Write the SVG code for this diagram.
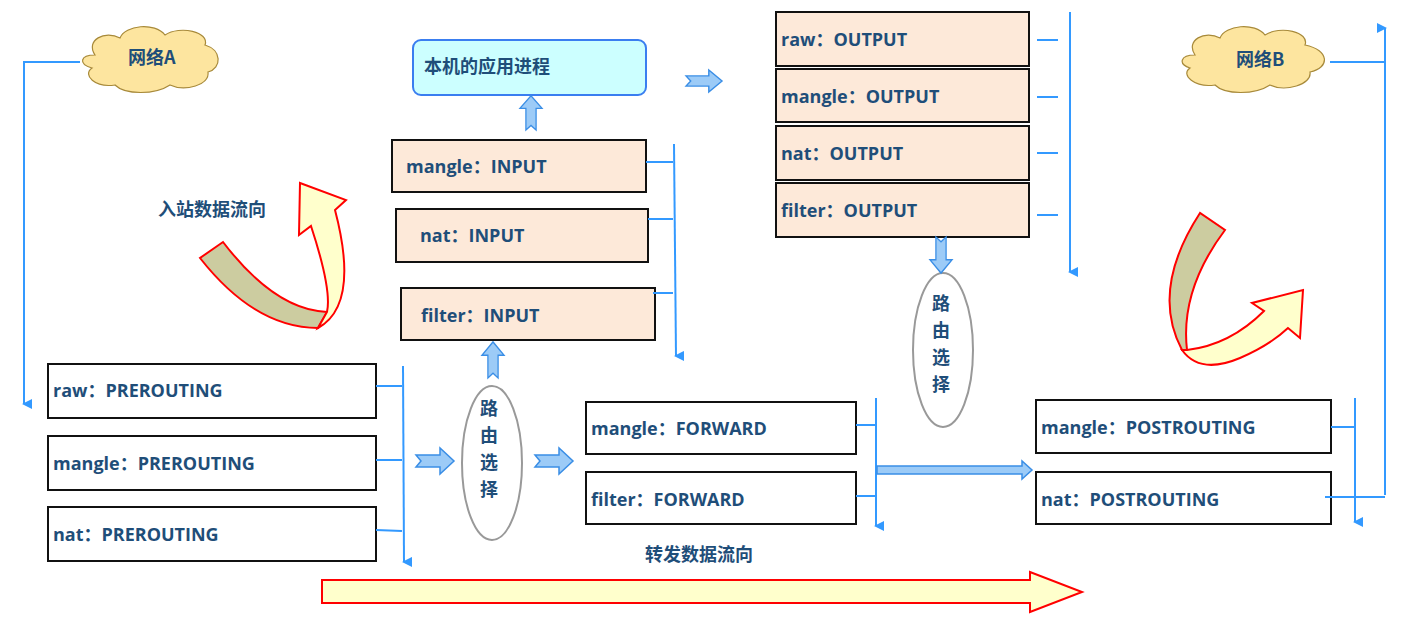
<svg xmlns="http://www.w3.org/2000/svg" width="1410" height="628" viewBox="0 0 1410 628">
<style>
text{font-family:"Open Sans","Noto Sans CJK SC",sans-serif;font-weight:bold;font-size:18px;fill:#1f4e79}
.cj{font-family:"Noto Sans CJK SC",sans-serif}
.b{fill:#fde9d9;stroke:#111;stroke-width:2}
.w{fill:#fff;stroke:#111;stroke-width:2}
.l{stroke:#3399ff;stroke-width:2;fill:none}
.ba{fill:#9ccbf7;stroke:#3a8ee6;stroke-width:1.5}
.cl{fill:#fde59f;stroke:#a88a3a;stroke-width:1.2}
.el{fill:#fff;stroke:#999;stroke-width:2}
.ol{fill:#cccca0;stroke:#ff0000;stroke-width:2}
.ye{fill:#ffffcc;stroke:#ff0000;stroke-width:2}
</style>
<defs>
<marker id="ah" markerWidth="10" markerHeight="10" refX="5" refY="8" orient="auto-start-reverse" markerUnits="userSpaceOnUse" viewBox="0 0 10 10"><path d="M0,0 L10,0 L5,10 Z" transform="rotate(0)" fill="#3399ff"/></marker>
<marker id="ad" markerWidth="10" markerHeight="10" refX="5" refY="8" orient="auto" markerUnits="userSpaceOnUse" viewBox="0 0 10 10"><path d="M0,0 L5,10 L10,0 Z" fill="#3399ff" transform="rotate(-90 5 5)"/></marker>
<path id="rarr" d="M0,-6 L24,-6 L24,-13 L38,0 L24,13 L24,6 L0,6 L5,0 Z"/>
</defs>
<g id="cloudA"><path class="cl" d="M95,55 C85,40 105,30 120,38 C125,25 155,22 165,35 C180,25 210,32 205,45 C222,50 222,68 208,72 C210,85 185,92 170,85 C155,95 125,95 115,85 C95,88 82,75 92,68 C78,64 80,55 95,55 Z"/><text x="128" y="64" class="cj">网络A</text></g>
<g id="cloudB"><path class="cl" d="M1195,55 C1185,40 1205,30 1220,38 C1225,25 1255,22 1265,35 C1280,25 1310,32 1305,45 C1330,50 1330,68 1310,72 C1312,85 1285,92 1270,85 C1255,95 1225,95 1215,85 C1195,88 1180,75 1190,68 C1178,64 1180,55 1195,55 Z"/><text x="1236" y="66" class="cj">网络B</text></g>
<g id="app"><rect x="413" y="40" width="233" height="55" rx="8" fill="#ccffff" stroke="#3a7ef0" stroke-width="2"/><text x="424" y="73" class="cj">本机的应用进程</text></g>
<g id="raw-output"><rect class="b" x="776" y="12" width="253" height="54"/><text x="781" y="46">raw：OUTPUT</text></g>
<g id="mangle-output"><rect class="b" x="776" y="69" width="253" height="53"/><text x="781" y="103">mangle：OUTPUT</text></g>
<g id="nat-output"><rect class="b" x="776" y="126" width="253" height="54"/><text x="781" y="160">nat：OUTPUT</text></g>
<g id="filter-output"><rect class="b" x="776" y="183" width="253" height="54"/><text x="781" y="217">filter：OUTPUT</text></g>
<g id="mangle-input"><rect class="b" x="392" y="140" width="254" height="52"/><text x="406" y="173">mangle：INPUT</text></g>
<g id="nat-input"><rect class="b" x="396" y="209" width="252" height="53"/><text x="420" y="242">nat：INPUT</text></g>
<g id="filter-input"><rect class="b" x="401" y="288" width="254" height="52"/><text x="421" y="322">filter：INPUT</text></g>
<g id="raw-pre"><rect class="w" x="48" y="364" width="328" height="54"/><text x="53" y="397">raw：PREROUTING</text></g>
<g id="mangle-pre"><rect class="w" x="48" y="436" width="328" height="54"/><text x="53" y="470">mangle：PREROUTING</text></g>
<g id="nat-pre"><rect class="w" x="48" y="507" width="328" height="54"/><text x="53" y="541">nat：PREROUTING</text></g>
<g id="mangle-fwd"><rect class="w" x="586" y="402" width="270" height="52"/><text x="591" y="435">mangle：FORWARD</text></g>
<g id="filter-fwd"><rect class="w" x="586" y="472" width="270" height="52"/><text x="591" y="506">filter：FORWARD</text></g>
<g id="mangle-post"><rect class="w" x="1036" y="400" width="295" height="53"/><text x="1041" y="434">mangle：POSTROUTING</text></g>
<g id="nat-post"><rect class="w" x="1036" y="472" width="295" height="52"/><text x="1041" y="506">nat：POSTROUTING</text></g>
<g id="route1"><ellipse class="el" cx="492" cy="463" rx="30" ry="77"/><text class="cj" font-size="20" x="480" y="415">路</text><text class="cj" font-size="20" x="480" y="442">由</text><text class="cj" font-size="20" x="480" y="469">选</text><text class="cj" font-size="20" x="480" y="496">择</text></g>
<g id="route2"><ellipse class="el" cx="943" cy="350" rx="30" ry="77"/><text class="cj" font-size="20" x="932" y="310">路</text><text class="cj" font-size="20" x="932" y="337">由</text><text class="cj" font-size="20" x="932" y="364">选</text><text class="cj" font-size="20" x="932" y="391">择</text></g>
<text x="158" y="216" class="cj">入站数据流向</text>
<text x="645" y="561" class="cj">转发数据流向</text>
<g id="connectors">
<polyline class="l" points="80,62 24,62 24,404" marker-end="url(#ah)"/>
<polyline class="l" points="1330,62 1385,62"/>
<line class="l" x1="1385" y1="495" x2="1385" y2="28" marker-end="url(#ah)"/>
<line class="l" x1="1325" y1="497" x2="1385" y2="497"/>
<line class="l" x1="1037" y1="40" x2="1058" y2="40"/><line class="l" x1="1037" y1="97" x2="1058" y2="97"/><line class="l" x1="1037" y1="153" x2="1058" y2="153"/><line class="l" x1="1037" y1="215" x2="1058" y2="215"/>
<line class="l" x1="1070" y1="12" x2="1070" y2="272" marker-end="url(#ah)"/>
<line class="l" x1="646" y1="162" x2="673" y2="162"/><line class="l" x1="648" y1="219" x2="673" y2="219"/><line class="l" x1="653" y1="293" x2="673" y2="293"/>
<line class="l" x1="674" y1="144" x2="676" y2="356" marker-end="url(#ah)"/>
<line class="l" x1="376" y1="386" x2="402" y2="386"/><line class="l" x1="376" y1="460" x2="402" y2="460"/><line class="l" x1="376" y1="530" x2="402" y2="531"/>
<line class="l" x1="403" y1="366" x2="404" y2="562" marker-end="url(#ah)"/>
<line class="l" x1="856" y1="425" x2="876" y2="425"/><line class="l" x1="856" y1="496" x2="876" y2="496"/>
<line class="l" x1="876" y1="398" x2="876" y2="526" marker-end="url(#ah)"/>
<line class="l" x1="1331" y1="427" x2="1355" y2="427"/>
<line class="l" x1="1355" y1="398" x2="1355" y2="522" marker-end="url(#ah)"/>
<path class="ba" d="M877,466 L1022,466 L1022,461 L1032,470 L1022,479 L1022,474 L877,474 Z"/>
<use href="#rarr" class="ba" transform="translate(416,461)"/>
<use href="#rarr" class="ba" transform="translate(535,461)"/>
<use href="#rarr" class="ba" transform="translate(686,81) scale(0.95,0.85)"/>
<use href="#rarr" class="ba" transform="translate(531,130) rotate(-90) scale(0.9,0.85)"/>
<use href="#rarr" class="ba" transform="translate(493,378) rotate(-90) scale(0.95,0.85)"/>
<use href="#rarr" class="ba" transform="translate(941,237) rotate(90) scale(0.95,0.85)"/>
</g>
<path class="ye" d="M322,580 L1030,580 L1030,572 L1082,592 L1030,612 L1030,603 L322,603 Z"/>
<path class="ol" d="M200,258 Q255,328 318,328 L327,312 Q275,310 223,242 Z"/>
<path class="ye" d="M318,328 Q360,305 335,210 L346,200 L300,183 L299,235 L311,226 Q332,290 327,312 Z"/>
<path class="ol" d="M1200,213 Q1150,290 1182,350 L1187,350 Q1180,290 1225,230 Z"/>
<path class="ye" d="M1182,350 Q1200,375 1240,358 Q1270,345 1288,328 L1300,338 L1303,290 L1252,303 L1264,311 Q1230,345 1187,350 Z"/>
</svg>
